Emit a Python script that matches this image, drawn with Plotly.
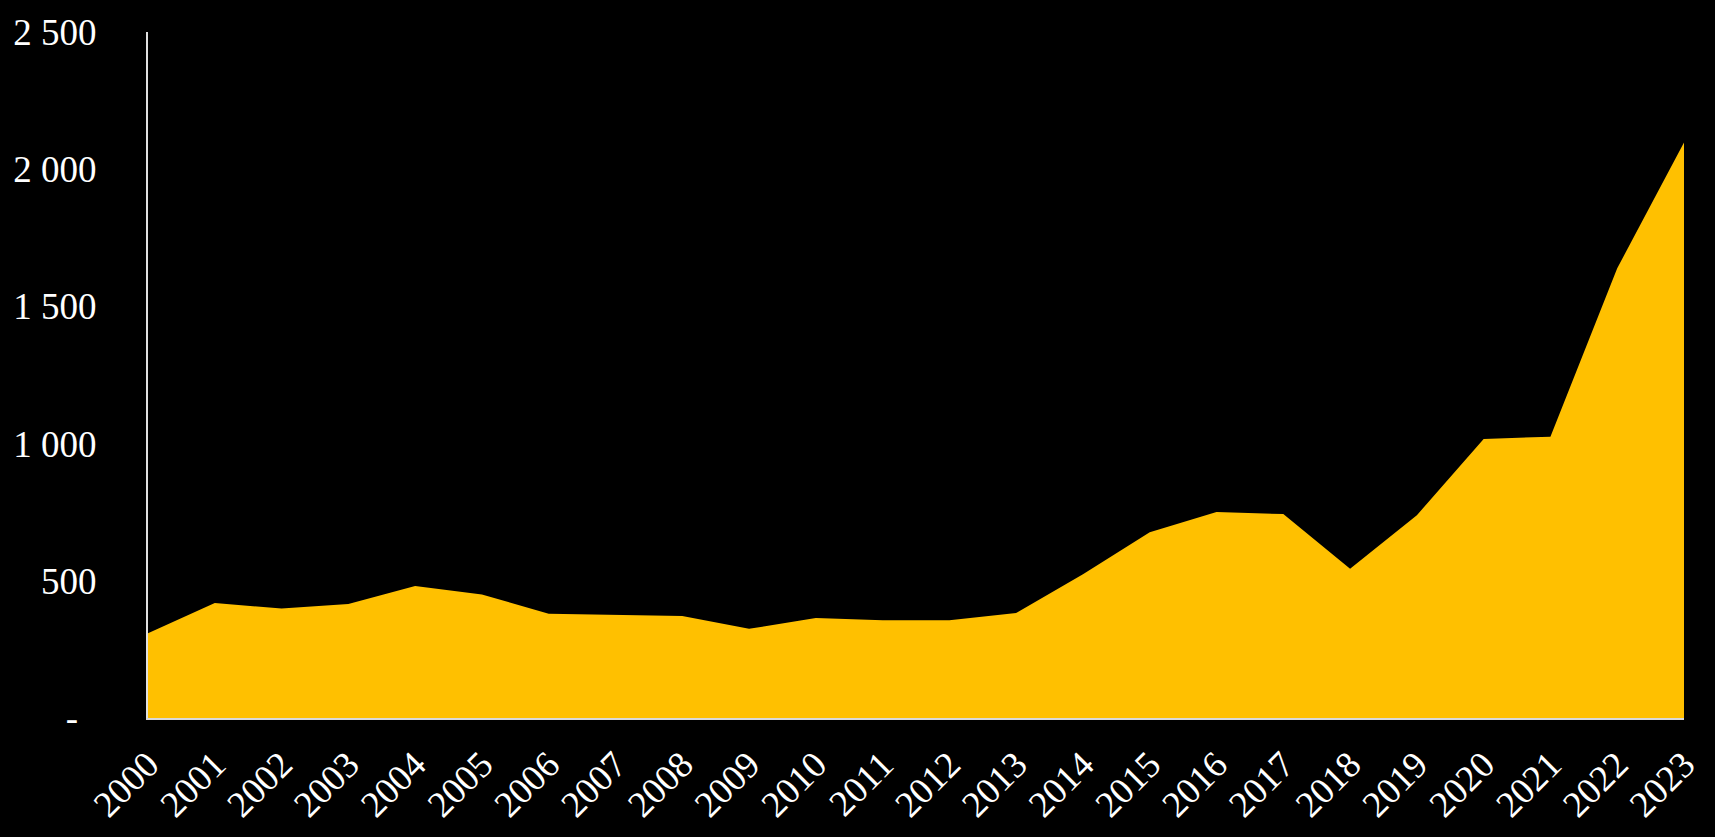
import plotly.graph_objects as go

years = list(range(2000, 2024))
values = [309, 419, 399, 415, 481, 450, 380, 376, 372, 325, 364, 356,
          356, 383, 524, 677, 751, 743, 544, 739, 1017, 1025, 1639, 2097]

y_tickvals = [0, 500, 1000, 1500, 2000, 2500]
y_ticktext = ["-\u00a0\u00a0", "500", "1 000", "1 500", "2 000", "2 500"]

fig = go.Figure()
fig.add_trace(go.Scatter(
    x=years, y=values, mode="lines", fill="tozeroy",
    line=dict(width=0, color="#FFC000"), fillcolor="#FFC000",
    hoverinfo="skip", showlegend=False,
))

font = dict(family="Liberation Serif, Times New Roman, serif", size=37, color="white")

fig.update_layout(
    width=1715, height=837,
    paper_bgcolor="black", plot_bgcolor="black",
    margin=dict(l=148, r=23, t=26, b=110),
    font=font,
    xaxis=dict(
        range=[years[0], years[-1]], tickmode="array", tickvals=years,
        ticktext=[str(y) for y in years], tickangle=-45,
        showgrid=False, zeroline=False, showline=True,
        linecolor="#d9d9d9", linewidth=2, ticks="", ticklabelstandoff=8,
        tickfont=font,
    ),
    yaxis=dict(
        range=[0, 2500], tickmode="array", tickvals=y_tickvals, ticktext=y_ticktext,
        showgrid=False, zeroline=False, showline=True,
        linecolor="#e0e0e0", linewidth=2, ticks="", ticklabelstandoff=42,
        tickfont=font,
    ),
)

fig.write_html(
    "out.html",
    config={"displayModeBar": False},
    post_script=(
        "document.body.style.margin='0';"
        "document.body.style.background='black';"
        "document.body.style.overflow='hidden';"
        "document.documentElement.style.overflow='hidden';"
    ),
)
